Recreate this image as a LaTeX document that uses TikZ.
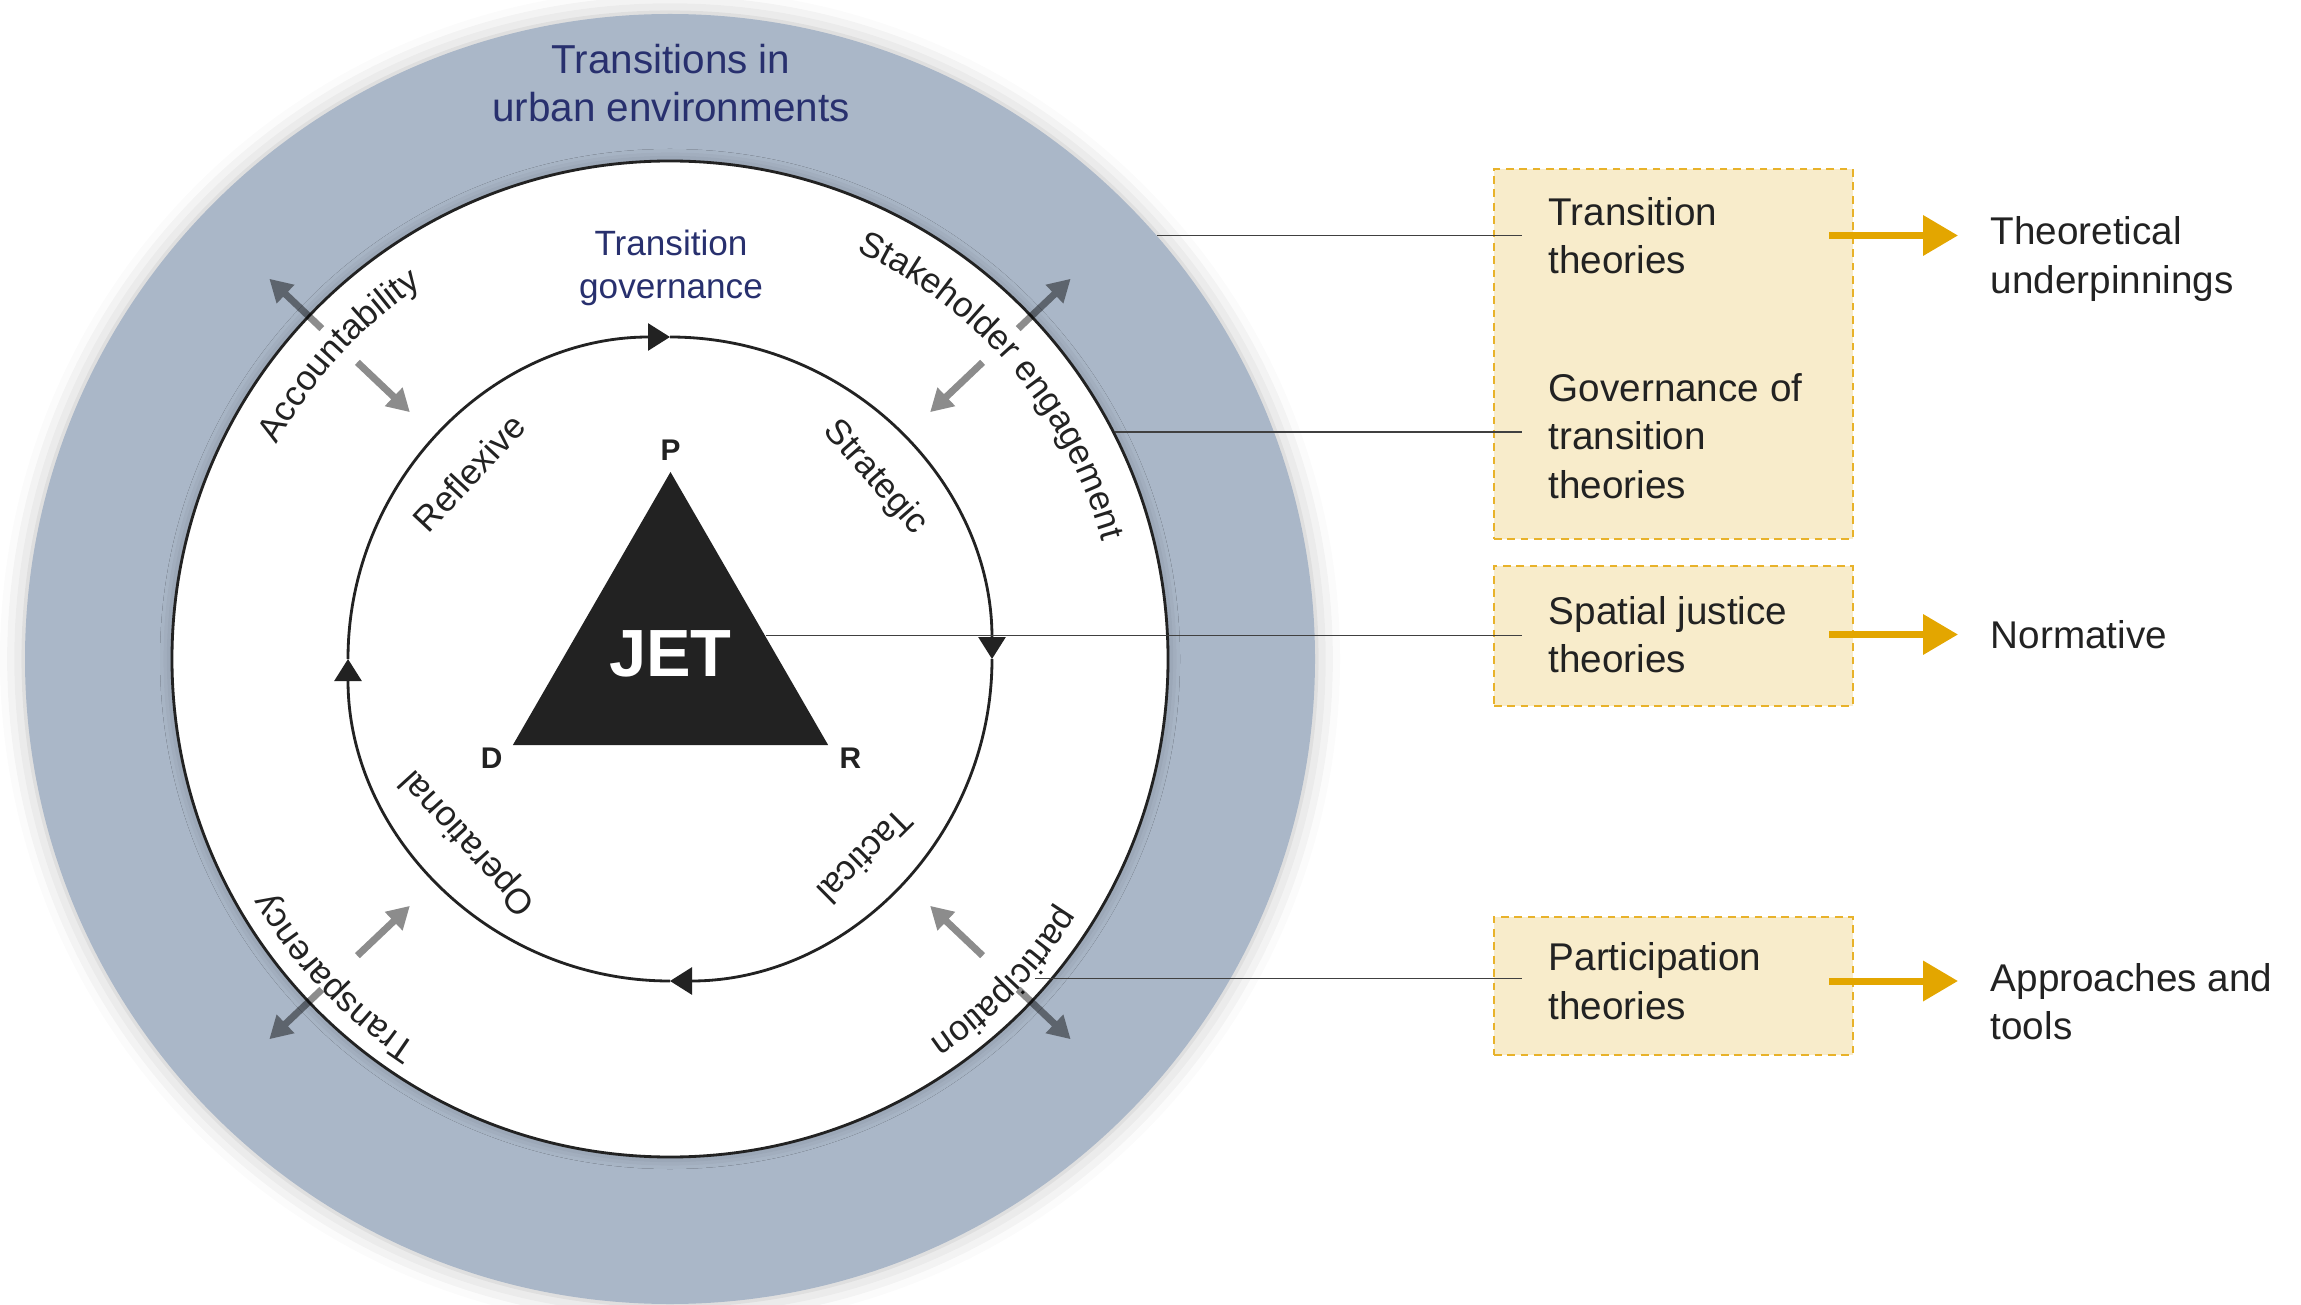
\documentclass[tikz,border=0pt]{standalone}
\usepackage{fontspec}
\setmainfont{Liberation Sans}
\usetikzlibrary{positioning,shapes.geometric,arrows.meta,decorations.text,shadows.blur}
\definecolor{bandblue}{HTML}{AAB7C8}
\definecolor{navy}{HTML}{28306E}
\definecolor{gold}{HTML}{E3A600}
\definecolor{cream}{HTML}{F8ECCB}
\definecolor{dashgold}{HTML}{E8B22A}
\definecolor{ink}{HTML}{222222}

\tikzset{
    garrow/.pic={
        \fill[black, fill opacity=.45] (0,-.035) -- (.5,-.035) -- (.5,-.13) -- (.72,0)
            -- (.5,.13) -- (.5,.035) -- (0,.035) -- cycle;
    }
}

\begin{document}
\begin{tikzpicture}[
    font=\fontsize{11}{13.8}\selectfont, text=ink,
    every node/.style={inner sep=0pt},
    ringtext/.style={font=\fontsize{10}{12}\selectfont},
    vertex/.style={font=\fontsize{8.5}{10}\selectfont\bfseries},
    theorybox/.style={draw=dashgold, fill=cream, line width=0.8pt,
                      dash pattern=on 2.2pt off 1.6pt, minimum width=3.59cm},
    boxtext/.style={anchor=west, align=left},
    outcome/.style={anchor=west, align=left},
    link/.style={draw=black!75, line width=0.45pt},
    goldarrow/.style={draw=gold, line width=0.7mm, -{Triangle[length=3.5mm, width=3.9mm]}},
    ringarc/.style={draw=ink, line width=0.8pt, -{Triangle[length=2.2mm, width=2.7mm]}},
    arctext/.style={decorate, decoration={text along path, text align=center, text color=ink,
                    text={|\fontsize{10}{12}\selectfont|#1}}},
    softshadow/.style={blur shadow={shadow xshift=0pt, shadow yshift=0pt,
                       shadow blur radius=#1, shadow opacity=25}}
]
\useasboundingbox (0,0) rectangle (23.01,13.04);
\coordinate (c) at (6.70,6.45);

\node[circle, fill=bandblue, minimum size=12.9cm, softshadow=2.5mm] (outer) at (c) {};
\node[circle, draw=ink, line width=0.8pt, fill=white, minimum size=9.96cm, softshadow=1.2mm] (white) at (c) {};

\foreach \s/\e in {180/90, 90/0, 0/-90, -90/-180}
    \draw[ringarc] ([shift={(\s:3.22)}]c) arc[start angle=\s, end angle=\e, radius=3.22];

\node[text=navy, align=center, font=\fontsize{11.5}{13.7}\selectfont] (title) at (6.71,12.21)
    {Transitions in\\urban environments};
\node[text=navy, align=center, font=\fontsize{10}{12.2}\selectfont] (tgov) at (6.71,10.365)
    {Transition\\governance};

\node[ringtext, rotate=47] (refl) at ([shift={(137.2:2.74)}]c) {Reflexive};
\node[ringtext, rotate=-48.6] (strat) at ([shift={(41.4:2.74)}]c) {Strategic};
\node[ringtext, rotate=-135.3] (tact) at ([shift={(-45.3:2.78)}]c) {Tactical};
\node[ringtext, rotate=132.3] (oper) at ([shift={(-137.7:2.72)}]c) {Operational};

\path[arctext=Accountability] ([shift={(187.5:4.48)}]c) arc[start angle=187.5, end angle=87.5, radius=4.48];
\path[arctext=Stakeholder engagement] ([shift={(90.3:4.48)}]c) arc[start angle=90.3, end angle=-9.7, radius=4.48];
\path[arctext=Transparency] ([shift={(-86.5:4.62)}]c) arc[start angle=-86.5, end angle=-186.5, radius=4.62];
\path[arctext=participation] ([shift={(6:4.62)}]c) arc[start angle=6, end angle=-94, radius=4.62];

\foreach \a in {136.5,43.5,-43.5,-136.5} {
    \pic[rotate=\a] at ([shift={(\a:4.80)}]c) {garrow};
    \pic[rotate=\a+180] at ([shift={(\a:4.31)}]c) {garrow};
}

\node[regular polygon, regular polygon sides=3, minimum size=3.64cm, fill=ink, text=white,
      font=\fontsize{19}{22}\selectfont\bfseries] (jet) at (6.705,6.50) {JET};
\node[vertex, above=0.9mm of jet.corner 1] (p) {P};
\node[vertex] (d) at ([shift={(-0.2,-0.13)}]jet.corner 2) {D};
\node[vertex] (r) at ([shift={(0.21,-0.13)}]jet.corner 3) {R};

\node[theorybox, minimum height=3.70cm] (theobox) at (16.735,9.50) {};
\node[theorybox, minimum height=1.40cm] (spatbox) at (16.735,6.68) {};
\node[theorybox, minimum height=1.38cm] (partbox) at (16.735,3.18) {};

\node[boxtext] (trans) at (15.48,10.685) {Transition\\theories};
\node[boxtext] (gov) at (15.48,8.68) {Governance of\\transition\\theories};
\node[boxtext] (spat) at (15.48,6.695) {Spatial justice\\theories};
\node[boxtext] (part) at (15.48,3.23) {Participation\\theories};

\node[outcome] (theo) at (19.90,10.45) {Theoretical\\underpinnings};
\node[outcome] (norm) at (19.90,6.69) {Normative};
\node[outcome] (appr) at (19.90,3.025) {Approaches and\\tools};

\coordinate (partpt) at ([shift={(-41.2:4.85)}]c);
\draw[link] (outer.41) -- ([xshift=2.9mm]outer.41 -| theobox.west);
\draw[link] (white.27) -- ([xshift=2.9mm]white.27 -| theobox.west);
\draw[link] (jet.11.5) -- ([xshift=2.9mm]jet.11.5 -| spatbox.west);
\draw[link] (partpt) -- ([xshift=2.9mm]partpt -| partbox.west);

\draw[goldarrow] ([xshift=-2.5mm]theobox.east |- trans) -- ([xshift=-3.2mm]theo.west |- trans);
\draw[goldarrow] ([xshift=-2.5mm]spatbox.east |- spat) -- ([xshift=-3.2mm]norm.west |- spat);
\draw[goldarrow] ([xshift=-2.5mm]partbox.east |- part) -- ([xshift=-3.2mm]appr.west |- part);
\end{tikzpicture}
\end{document}
